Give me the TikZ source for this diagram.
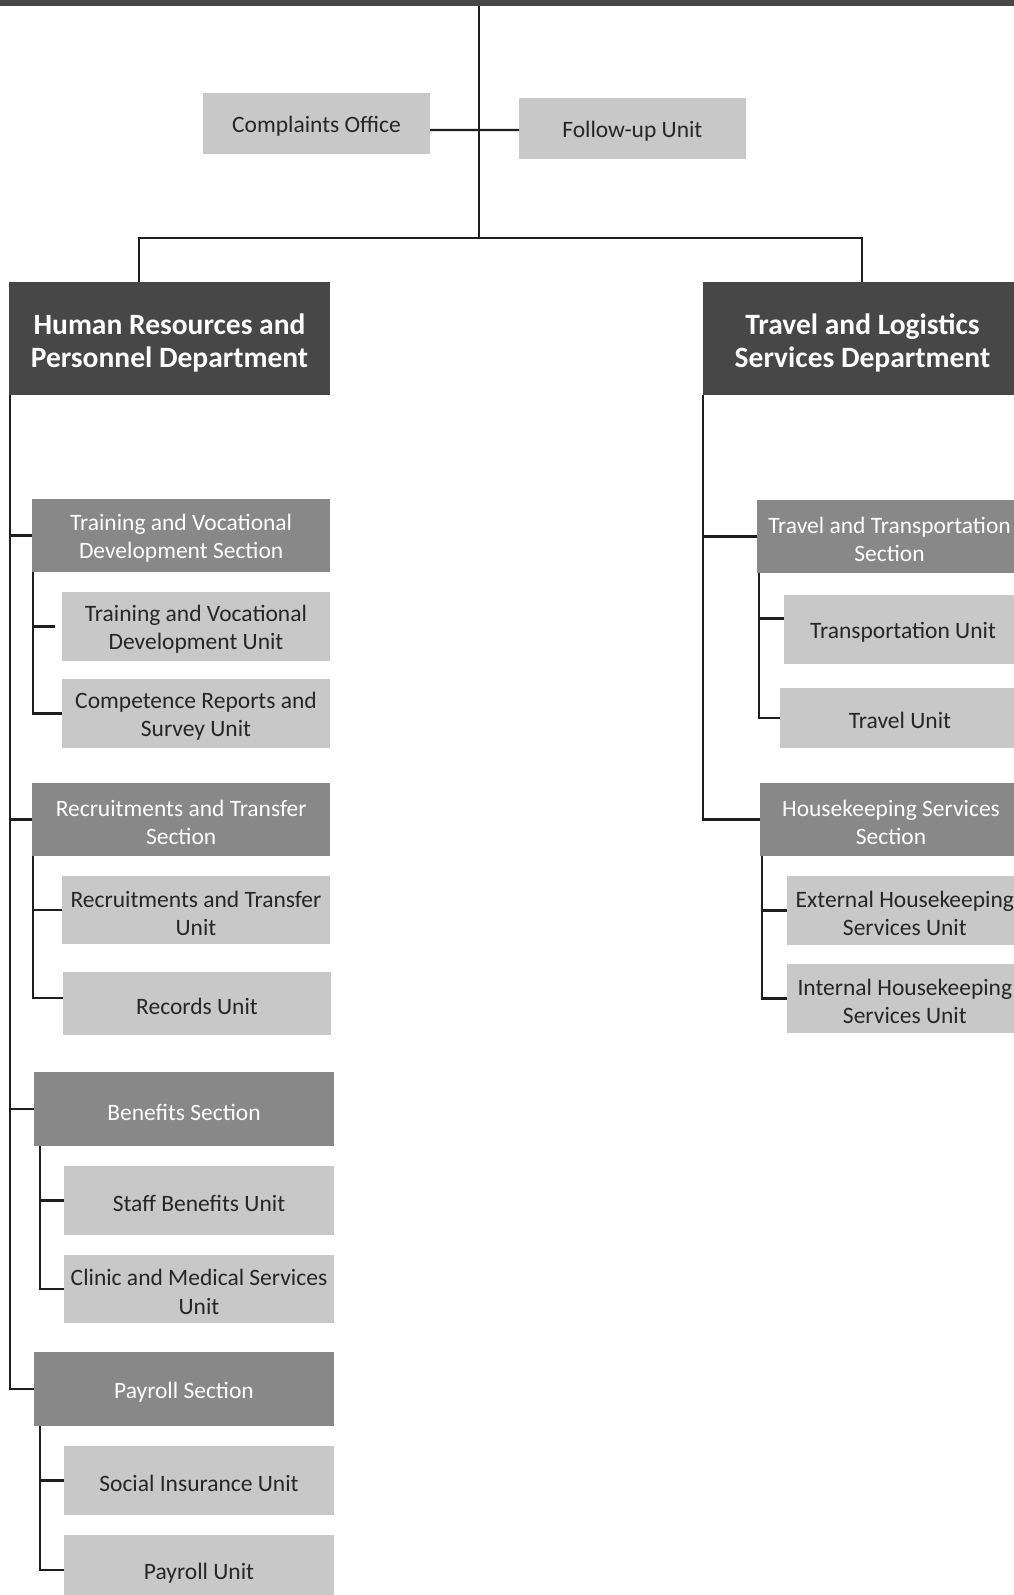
\documentclass[tikz,border=0pt]{standalone}
\usepackage{fontspec}
\setmainfont{Carlito}
\definecolor{deptc}{HTML}{474747}
\definecolor{sectc}{HTML}{888888}
\definecolor{unitc}{HTML}{C8C8C8}
\definecolor{txtc}{HTML}{262626}
\definecolor{linec}{HTML}{1E1E1E}
\newcommand\unitfont{\fontsize{23.5}{28.5}\selectfont}
\newcommand\deptfont{\bfseries\fontsize{29.5}{33}\selectfont}
% #1 name, #2 kind (dept/sect/unit/bar), #3 x1, #4 y1, #5 x2, #6 y2, #7 text
\newcommand\orgbox[7]{%
  \node[#2box, minimum width={(#5-#3)*1pt}, minimum height={(#6-#4)*1pt}] (#1) at ({(#3+#5)/2},{(#4+#6)/2}) {};
  \node[#2txt] (#1-t) at ([yshift=-\csname #2drop\endcsname]#1.center) {#7};}
\newcommand\deptdrop{4pt}
\newcommand\sectdrop{3pt}
\newcommand\unitdrop{3pt}
\newcommand\bardrop{0pt}
\tikzset{
  basebox/.style={rectangle, inner sep=0pt, outer sep=0pt, align=center},
  deptbox/.style={basebox, fill=deptc},
  sectbox/.style={basebox, fill=sectc},
  unitbox/.style={basebox, fill=unitc},
  barbox/.style={basebox, fill=deptc},
  depttxt/.style={basebox, text=white, font=\deptfont},
  secttxt/.style={basebox, text=white, font=\unitfont},
  unittxt/.style={basebox, text=txtc, font=\unitfont},
  bartxt/.style={basebox},
  conn/.style={draw=linec, line width=2.3pt},
}
\begin{document}
\begin{tikzpicture}[x=1pt,y=-1pt]
\useasboundingbox (0,0) rectangle (1014,1595);
\clip (0,0) rectangle (1014,1595);
\fill[white] (0,0) rectangle (1014,1595);

% boxes
\orgbox{topbar}{bar}{0}{0}{1014}{6}{}
\orgbox{comp}{unit}{203}{93}{430}{153.7}{Complaints Office}
\orgbox{follow}{unit}{519}{98}{745.7}{159}{Follow-up Unit}
\orgbox{hr}{dept}{9}{282}{330}{395}{Human Resources and\\Personnel Department}
\orgbox{tl}{dept}{703}{282}{1022}{395}{Travel and Logistics\\Services Department}

\orgbox{trainS}{sect}{32.3}{499}{330}{571.7}{Training and Vocational\\Development Section}
\orgbox{trainU}{unit}{62}{592}{330}{660.7}{Training and Vocational\\Development Unit}
\orgbox{compU}{unit}{62}{679}{330}{747.7}{Competence Reports and\\Survey Unit}
\orgbox{recS}{sect}{32.3}{783.3}{330}{855.7}{Recruitments and Transfer\\Section}
\orgbox{recU}{unit}{62}{876.3}{330}{944.3}{Recruitments and Transfer\\Unit}
\orgbox{recordsU}{unit}{63}{972.3}{331}{1034.7}{Records Unit}
\orgbox{benS}{sect}{34}{1072.3}{334}{1145.7}{Benefits Section}
\orgbox{staffU}{unit}{64}{1166}{334}{1234.7}{Staff Benefits Unit}
\orgbox{clinicU}{unit}{64}{1255}{334}{1323.3}{Clinic and Medical Services\\Unit}
\orgbox{payS}{sect}{34}{1352}{334}{1425.7}{Payroll Section}
\orgbox{socU}{unit}{64}{1446}{334}{1514.7}{Social Insurance Unit}
\orgbox{payU}{unit}{64}{1535}{334}{1605}{Payroll Unit}

\orgbox{ttS}{sect}{757}{500}{1022}{572.7}{Travel and Transportation\\Section}
\orgbox{transU}{unit}{784}{595}{1022}{663.7}{Transportation Unit}
\orgbox{travelU}{unit}{780}{688}{1020}{747.7}{Travel Unit}
\orgbox{hkS}{sect}{760}{782.7}{1022}{856}{Housekeeping Services\\Section}
\orgbox{extU}{unit}{786.7}{876}{1023}{944.7}{External Housekeeping\\Services Unit}
\orgbox{intU}{unit}{786.7}{964}{1023}{1032.7}{Internal Housekeeping\\Services Unit}

% junction coordinates
\coordinate (hub) at (479.3,237.7);
\coordinate (hrdrop) at (139.3,282);
\coordinate (tldrop) at (861.7,282);
\coordinate (lt) at (10,0);
\coordinate (rt) at (703.3,0);
\coordinate (st1) at (33.3,0);
\coordinate (st2) at (33.3,0);
\coordinate (st3) at (40,0);
\coordinate (st4) at (40,0);
\coordinate (st5) at (758.7,0);
\coordinate (st6) at (762.3,0);
\coordinate (trainJ) at ([xshift=-7pt]trainU.west);
\coordinate (recordsJ) at ([yshift=5.8pt]recordsU.west);
\coordinate (transJ) at ([yshift=11pt]transU.west);
\coordinate (compJ) at ([yshift=-6.65pt]comp.east);
\coordinate (followJ) at ([yshift=-1.5pt]follow.west);

% top level
\draw[conn] (hub |- topbar.south) -- (hub);
\draw[conn] (compJ) -- (followJ);
\draw[conn] (hrdrop |- hr.north) |- (hub) -| (tldrop |- tl.north);

% HR trunk
\draw[conn] (lt |- hr.south) |- (payS.west);
\draw[conn] (lt |- trainS.west) -- (trainS.west);
\draw[conn] (lt |- recS.west) -- (recS.west);
\draw[conn] (lt |- benS.west) -- (benS.west);

\draw[conn] (st1 |- trainS.south) |- (compU.west);
\draw[conn] (st1 |- trainJ) -- (trainJ);
\draw[conn] (st2 |- recS.south) |- (recordsJ);
\draw[conn] (st2 |- recU.west) -- (recU.west);
\draw[conn] (st3 |- benS.south) |- (clinicU.west);
\draw[conn] (st3 |- staffU.west) -- (staffU.west);
\draw[conn] (st4 |- payS.south) |- (payU.west);
\draw[conn] (st4 |- socU.west) -- (socU.west);

% TL trunk
\draw[conn] (rt |- tl.south) |- (hkS.west);
\draw[conn] (rt |- ttS.west) -- (ttS.west);
\draw[conn] (st5 |- ttS.south) |- (travelU.west);
\draw[conn] (st5 |- transJ) -- (transJ);
\draw[conn] (st6 |- hkS.south) |- (intU.west);
\draw[conn] (st6 |- extU.west) -- (extU.west);
\end{tikzpicture}
\end{document}
